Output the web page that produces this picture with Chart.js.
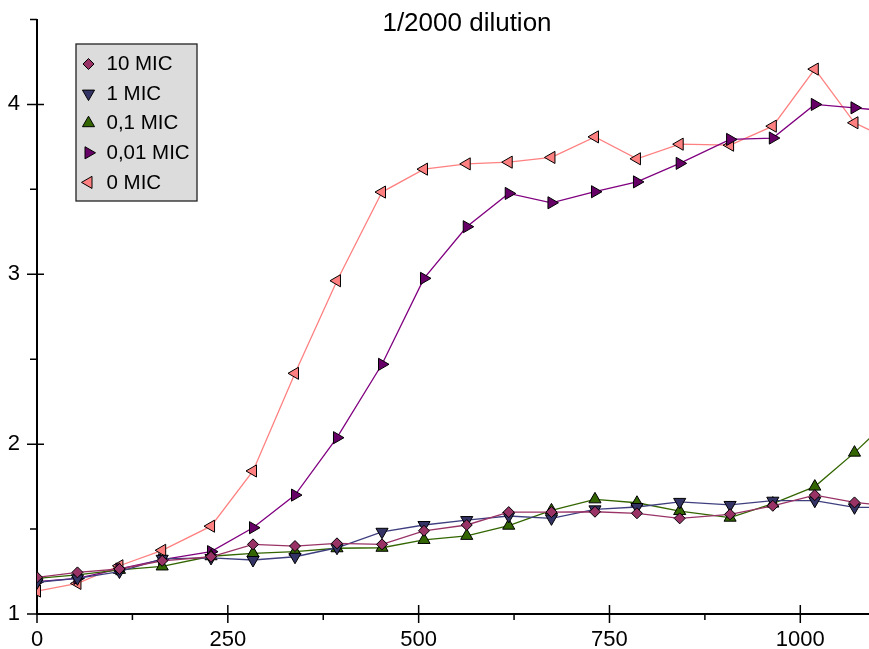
<!DOCTYPE html>
<html>
<head>
<meta charset="utf-8">
<script src="https://cdn.jsdelivr.net/npm/chart.js@4.4.0/dist/chart.umd.min.js"></script>
<style>
  html, body { margin: 0; padding: 0; background: #fff; }
  #wrap { width: 869px; height: 649px; position: relative; }
</style>
</head>
<body>
<div id="wrap"><canvas id="dilutionChart"></canvas></div>
<script>
// sampling times (min) and OD readings per antibiotic concentration
const times = [0, 53, 108, 164, 228, 283, 338, 393, 452, 507, 563, 618, 674, 731, 786, 842, 908, 964, 1019, 1071, 1127];

const mic10  = [1.216, 1.245, 1.265, 1.313, 1.337, 1.41, 1.40, 1.416, 1.41, 1.49, 1.524, 1.60, 1.60, 1.602, 1.593, 1.563, 1.587, 1.637, 1.70, 1.657, 1.63];
const mic1   = [1.187, 1.21, 1.25, 1.325, 1.33, 1.318, 1.337, 1.39, 1.484, 1.524, 1.553, 1.577, 1.563, 1.616, 1.63, 1.66, 1.642, 1.667, 1.667, 1.628, 1.628];
const mic01  = [1.21, 1.23, 1.26, 1.28, 1.34, 1.357, 1.367, 1.387, 1.39, 1.436, 1.46, 1.52, 1.61, 1.675, 1.655, 1.606, 1.567, 1.65, 1.75, 1.95, 2.19];
const mic001 = [1.19, 1.21, 1.265, 1.32, 1.367, 1.508, 1.70, 2.038, 2.47, 2.976, 3.28, 3.476, 3.421, 3.486, 3.544, 3.653, 3.794, 3.802, 4.0, 3.98, 3.955];
const mic0   = [1.135, 1.18, 1.284, 1.375, 1.517, 1.842, 2.417, 2.962, 3.484, 3.619, 3.650, 3.660, 3.688, 3.809, 3.680, 3.766, 3.760, 3.872, 4.208, 3.892, 3.77];

const seriesLabels = ['10 MIC', '1 MIC', '0,1 MIC', '0,01 MIC', '0 MIC'];
const xTickLabels = [0, 250, 500, 750, 1000];
const yTickLabels = [1, 2, 3, 4];

const toPoints = arr => times.map((t, i) => ({ x: t, y: arr[i] }));

function series(label, values, line, fill, style, rotation, radius) {
    return {
        label: label,
        data: toPoints(values),
        borderColor: line,
        borderWidth: 1.3,
        pointBackgroundColor: fill,
        pointBorderColor: '#000',
        pointBorderWidth: 1,
        pointStyle: style,
        pointRotation: rotation,
        pointRadius: radius,
        tension: 0
    };
}

const FONT = '"Liberation Sans", Arial, sans-serif';
Chart.defaults.font.family = FONT;
Chart.defaults.color = '#000';

// tick marks: integers cross the axis, halves sit outside only
const axisTicks = {
    id: 'axisTicks',
    beforeDatasetsDraw(chart) {
        const { ctx, scales: { x, y } } = chart;
        ctx.save();
        ctx.strokeStyle = '#000';
        ctx.lineWidth = 1.5;
        ctx.beginPath();
        y.ticks.forEach(t => {
            const py = y.getPixelForValue(t.value);
            const major = yTickLabels.includes(t.value);
            ctx.moveTo(y.right - (major ? 10 : 7), py);
            ctx.lineTo(y.right + (major ? 7 : 0), py);
        });
        x.ticks.forEach(t => {
            if (t.value % 125 !== 0) return;
            const px = x.getPixelForValue(t.value);
            const major = xTickLabels.includes(t.value);
            ctx.moveTo(px, x.top + (major ? 9 : 6));
            ctx.lineTo(px, x.top - (major ? 9 : 0));
        });
        ctx.stroke();
        ctx.restore();
    }
};

const chartTitle = {
    id: 'chartTitle',
    afterDraw(chart) {
        const ctx = chart.ctx;
        ctx.save();
        ctx.fillStyle = '#000';
        ctx.font = '26px ' + FONT;
        ctx.textAlign = 'center';
        ctx.textBaseline = 'middle';
        ctx.fillText('1/2000 dilution', 467, 24);
        ctx.restore();
    }
};

// grey boxed legend sitting inside the plot
const legendBox = {
    id: 'legendBox',
    afterDatasetsDraw(chart) {
        const ctx = chart.ctx;
        ctx.save();
        ctx.fillStyle = '#dcdcdc';
        ctx.fillRect(76, 44, 121, 157);
        ctx.strokeStyle = '#222';
        ctx.lineWidth = 1.3;
        ctx.strokeRect(76, 44, 121, 157);
        chart.data.datasets.forEach((ds, i) => {
            const cy = 64 + i * 29.6;
            ctx.fillStyle = ds.pointBackgroundColor;
            ctx.strokeStyle = '#000';
            ctx.lineWidth = 1;
            Chart.helpers.drawPoint(ctx, {
                pointStyle: ds.pointStyle,
                rotation: ds.pointRotation,
                radius: ds.pointRadius,
                borderWidth: 1
            }, 88.5, cy);
            ctx.fillStyle = '#000';
            ctx.font = '20.5px ' + FONT;
            ctx.textAlign = 'left';
            ctx.textBaseline = 'middle';
            ctx.fillText(ds.label, 106.5, cy + 0.5);
        });
        ctx.restore();
    }
};

new Chart(document.getElementById('dilutionChart'), {
    type: 'line',
    data: {
        datasets: [
            series(seriesLabels[0], mic10, '#993366', '#993366', 'rectRot', 0, 5.5),
            series(seriesLabels[1], mic1, '#3f3f80', '#333366', 'triangle', 180, 7),
            series(seriesLabels[2], mic01, '#336600', '#336600', 'triangle', 0, 7),
            series(seriesLabels[3], mic001, '#800080', '#660066', 'triangle', 90, 7),
            series(seriesLabels[4], mic0, '#ff8080', '#ff8080', 'triangle', 270, 7)
        ]
    },
    options: {
        responsive: true,
        maintainAspectRatio: false,
        animation: false,
        layout: { autoPadding: false, padding: { top: 19.5, right: 0, left: 0, bottom: 0 } },
        plugins: {
            legend: { display: false },
            tooltip: { enabled: false },
            title: { display: false }
        },
        scales: {
            x: {
                type: 'linear',
                min: 0,
                max: 1090,
                grid: { display: false, drawTicks: false },
                border: { display: true, color: '#000', width: 2 },
                ticks: {
                    stepSize: 125,
                    includeBounds: false,
                    autoSkip: false,
                    maxRotation: 0,
                    padding: 13,
                    font: { size: 22 },
                    callback: v => xTickLabels.includes(v) ? String(v) : ''
                },
                afterFit: s => {
                    s.height = 35;
                    s.paddingLeft = 0;
                    s.paddingRight = 0;
                }
            },
            y: {
                min: 1,
                max: 4.5,
                grid: { display: false, drawTicks: false },
                border: { display: true, color: '#000', width: 2 },
                ticks: {
                    stepSize: 0.5,
                    autoSkip: false,
                    padding: 17,
                    font: { size: 22 },
                    callback: v => yTickLabels.includes(v) ? String(v) : ''
                },
                afterFit: s => {
                    s.width = 37;
                    s.paddingTop = 0;
                    s.paddingBottom = 0;
                }
            }
        }
    },
    plugins: [axisTicks, legendBox, chartTitle]
});
</script>
</body>
</html>
